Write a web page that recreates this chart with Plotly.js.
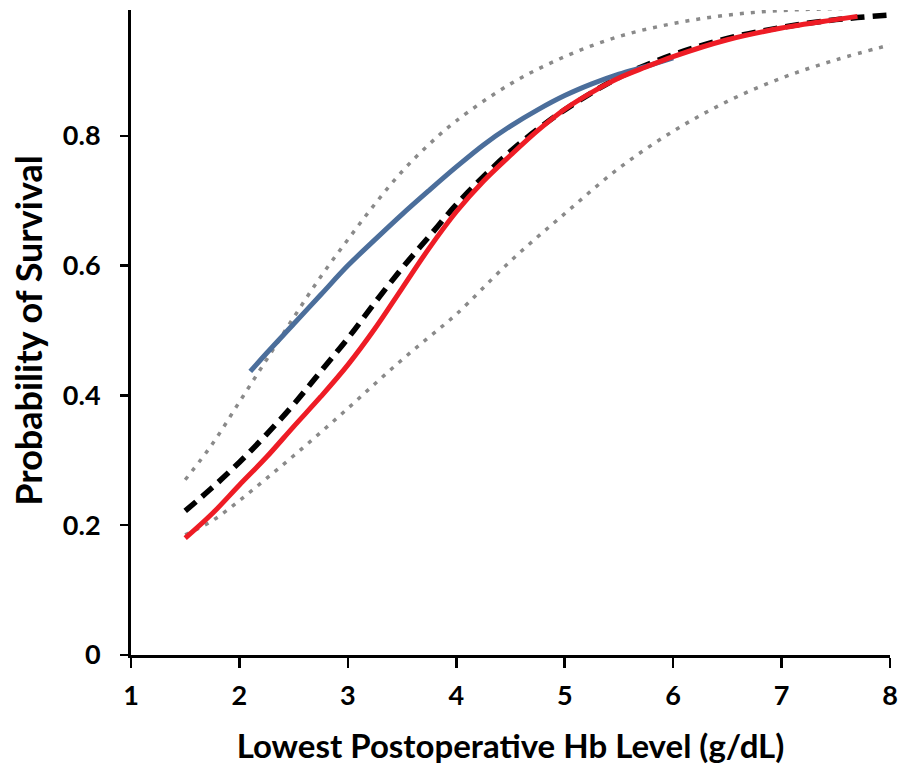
<!DOCTYPE html>
<html>
<head>
<meta charset="utf-8">
<script src="https://cdn.plot.ly/plotly-3.0.1.min.js"></script>
<style>
  html, body { margin: 0; padding: 0; background: #ffffff; overflow: hidden; }
  #chart { width: 899px; height: 766px; clip-path: inset(10px 0 0 0); }
</style>
</head>
<body>
<div id="chart"></div>
<script>
// Red solid curve
const redX = [1.5, 1.75, 2.0, 2.25, 2.5, 2.75, 3.0, 3.25, 3.5, 3.75, 4.0, 4.25, 4.5, 4.75, 5.0, 5.25, 5.5, 5.75, 6.0, 6.5, 7.0, 7.5, 7.7];
const redY = [0.18, 0.218, 0.262, 0.305, 0.352, 0.398, 0.447, 0.503, 0.565, 0.627, 0.683, 0.73, 0.77, 0.808, 0.841, 0.867, 0.889, 0.906, 0.922, 0.948, 0.966, 0.979, 0.984];

// Black dashed curve
const blackX = [1.5, 1.75, 2.0, 2.25, 2.5, 2.75, 3.0, 3.25, 3.5, 3.75, 4.0, 4.25, 4.5, 4.75, 5.0, 5.5, 6.0, 6.5, 7.0, 7.5, 8.0];
const blackY = [0.222, 0.258, 0.297, 0.34, 0.386, 0.437, 0.488, 0.543, 0.596, 0.645, 0.694, 0.737, 0.776, 0.81, 0.84, 0.89, 0.925, 0.95, 0.967, 0.979, 0.986];

// Blue solid curve
const blueX = [2.1, 2.25, 2.5, 2.75, 3.0, 3.25, 3.5, 3.75, 4.0, 4.25, 4.5, 4.75, 5.0, 5.25, 5.5, 5.75, 6.0];
const blueY = [0.437, 0.465, 0.51, 0.555, 0.6, 0.64, 0.679, 0.716, 0.752, 0.786, 0.815, 0.84, 0.862, 0.88, 0.895, 0.907, 0.92];

// Grey dotted upper bound
const upperX = [1.5, 1.75, 2.0, 2.25, 2.5, 2.75, 3.0, 3.25, 3.5, 3.75, 4.0, 4.5, 5.0, 5.5, 6.0, 6.5, 7.0, 7.5, 8.0];
const upperY = [0.27, 0.325, 0.39, 0.455, 0.52, 0.583, 0.64, 0.695, 0.745, 0.787, 0.823, 0.88, 0.922, 0.953, 0.973, 0.986, 0.993, 0.996, 0.998];

// Grey dotted lower bound
const lowerX = [1.5, 1.75, 2.0, 2.25, 2.5, 2.75, 3.0, 3.25, 3.5, 3.75, 4.0, 4.5, 5.0, 5.5, 6.0, 6.5, 7.0, 7.5, 8.0];
const lowerY = [0.185, 0.207, 0.238, 0.272, 0.307, 0.343, 0.38, 0.418, 0.455, 0.49, 0.525, 0.607, 0.68, 0.75, 0.807, 0.853, 0.889, 0.917, 0.94];

// Axis ticks
const xTicks = [1, 2, 3, 4, 5, 6, 7, 8];
const yTicks = [0, 0.2, 0.4, 0.6, 0.8, 1];
const yTickText = ['0', '0.2', '0.4', '0.6', '0.8', '1'];

const FONT = 'Lato, "Open Sans", sans-serif';
const dotted = { color: '#8a8a8a', width: 3.5, dash: '4px,7px', shape: 'spline' };

const traces = [
  { x: upperX, y: upperY, mode: 'lines', line: dotted, hoverinfo: 'skip' },
  { x: lowerX, y: lowerY, mode: 'lines', line: dotted, hoverinfo: 'skip' },
  { x: blackX, y: blackY, mode: 'lines', line: { color: '#000000', width: 5.5, dash: '14px,8px', shape: 'spline' } },
  { x: blueX, y: blueY, mode: 'lines', line: { color: '#4b6e9b', width: 5, shape: 'spline' } },
  { x: redX, y: redY, mode: 'lines', line: { color: '#ee1c25', width: 5, shape: 'spline' } }
];

const layout = {
  width: 899,
  height: 766,
  margin: { l: 131, r: 9, t: 6, b: 111 },
  paper_bgcolor: '#ffffff',
  plot_bgcolor: '#ffffff',
  showlegend: false,
  font: { family: FONT, color: '#000000' },
  xaxis: {
    range: [1, 8],
    tickvals: xTicks,
    ticktext: xTicks.map(String),
    showgrid: false,
    zeroline: false,
    showline: true,
    linecolor: '#000000',
    linewidth: 3,
    ticks: 'outside',
    ticklen: 10,
    tickwidth: 2.5,
    tickcolor: '#000000',
    ticklabelstandoff: 5,
    tickfont: { family: FONT, size: 27, weight: 'bold', color: '#000000' },
    title: { text: 'Lowest Postoperative Hb Level (g/dL)', standoff: 25,
             font: { family: FONT, size: 33, weight: 'bold', color: '#000000' } }
  },
  yaxis: {
    range: [0, 1],
    tickvals: yTicks,
    ticktext: yTickText,
    showgrid: false,
    zeroline: false,
    showline: true,
    linecolor: '#000000',
    linewidth: 3,
    ticks: 'outside',
    ticklen: 8,
    tickwidth: 2.5,
    tickcolor: '#000000',
    ticklabelstandoff: 14,
    tickfont: { family: FONT, size: 27, weight: 'bold', color: '#000000' },
    title: { text: 'Probability of Survival', standoff: 10,
             font: { family: FONT, size: 36, weight: 'bold', color: '#000000' } }
  }
};

Plotly.newPlot('chart', traces, layout, { staticPlot: true, displayModeBar: false });
</script>
</body>
</html>
